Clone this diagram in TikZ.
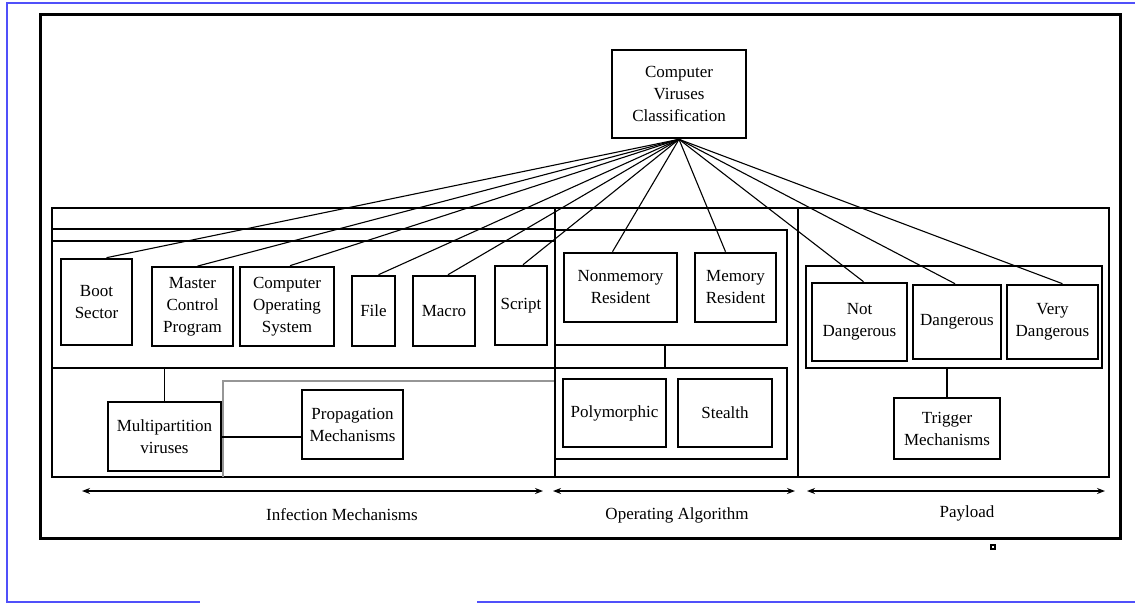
\documentclass[tikz,border=0pt]{standalone}
\usepackage{fontspec}
\setmainfont{Liberation Serif}
\usetikzlibrary{arrows.meta}

\definecolor{frameblue}{RGB}{80,80,250}
\definecolor{softgray}{RGB}{150,150,150}

\tikzset{
  box/.style={draw, line width=2.6pt, align=center, inner sep=0pt,
    font=\fontsize{17}{22}\selectfont},
  grp/.style={draw, line width=2.6pt, inner sep=0pt},
  link/.style={line width=1.1pt},
  spanarrow/.style={{Stealth[length=8pt,width=6pt]}-{Stealth[length=8pt,width=6pt]}, line width=2pt},
  lbl/.style={inner sep=0pt, font=\fontsize{17}{22}\selectfont},
}

\begin{document}
\begin{tikzpicture}[x=1pt, y=-1pt]
\useasboundingbox (0,0) rectangle (1135,603);

% page frame
\draw[frameblue, line width=1.8pt] (1135,3)--(7,3)--(7,602)--(200,602);
\draw[frameblue, line width=1.8pt] (477,602)--(1135,602);

% outer frames
\draw[line width=3pt] (40,14) rectangle (1120,538);
\draw[line width=2.8pt] (52,208) rectangle (1109,477);
\draw[line width=1.6pt] (52,229)--(555,229);
\draw[line width=2.8pt] (555,208)--(555,477);
\draw[line width=1.3pt] (798,208)--(798,477);
\draw[softgray, line width=1.3pt] (223,477)--(223,381)--(555,381);

% group boxes
\node[grp, minimum width=503pt, minimum height=127pt] (infbox) at (303.5,304.5) {};
\node[grp, minimum width=232pt, minimum height=115pt] (algotop) at (671,287.5) {};
\node[grp, minimum width=232pt, minimum height=91pt] (algobot) at (671,413.5) {};
\node[grp, minimum width=296pt, minimum height=102pt] (dangerbox) at (954,317) {};

% root
\node[box, minimum width=134pt, minimum height=88pt] (top) at (679,94) {Computer\\Viruses\\Classification};

% infection mechanisms
\node[box, minimum width=71pt, minimum height=86pt] (boot) at (96.5,302) {Boot\\Sector};
\node[box, line width=1.8pt, minimum width=81pt, minimum height=79pt] (mcp) at (192.5,306.5) {Master\\Control\\Program};
\node[box, minimum width=94pt, minimum height=79pt] (cos) at (287,306.5) {Computer\\Operating\\System};
\node[box, minimum width=43pt, minimum height=70pt] (file) at (373.5,311) {File};
\node[box, minimum width=62pt, minimum height=70pt] (macro) at (444,311) {Macro};
\node[box, minimum width=52pt, minimum height=79pt] (script) at (521,305.5) {Script};
\node[box, minimum width=113pt, minimum height=69pt] (multi) at (164.5,436.5) {Multipartition\\viruses};
\node[box, line width=2.2pt, minimum width=101pt, minimum height=69pt] (prop) at (352.5,424.5) {Propagation\\Mechanisms};

% operating algorithm
\node[box, minimum width=113pt, minimum height=69pt] (nonmem) at (620.5,287.5) {Nonmemory\\Resident};
\node[box, minimum width=81pt, minimum height=69pt] (mem) at (735.5,287.5) {Memory\\Resident};
\node[box, minimum width=103pt, minimum height=68pt] (poly) at (614.5,413) {Polymorphic};
\node[box, line width=2.1pt, minimum width=94pt, minimum height=68pt] (stealth) at (725,413) {Stealth};

% payload
\node[box, minimum width=95pt, minimum height=78pt] (notd) at (859.5,322) {Not\\Dangerous};
\node[box, minimum width=88pt, minimum height=74pt] (dang) at (957,322) {Dangerous};
\node[box, minimum width=91pt, minimum height=74pt] (vdang) at (1052.5,322) {Very\\Dangerous};
\node[box, minimum width=106pt, minimum height=61pt] (trigger) at (947,428.5) {Trigger\\Mechanisms};

% links from the root
\foreach \n/\dx in {boot/10,mcp/5,cos/3,file/5,macro/4,script/2,nonmem/-8,mem/-10,notd/4,dang/-2,vdang/10}
  \draw[link] (top.south) -- ([xshift=\dx pt]\n.north);

\draw[link] (multi.north) -- (multi.north |- infbox.south);
\draw[line width=2pt] (multi.east) -- (multi.east -| prop.west);
\draw[line width=2.6pt] ([xshift=-6pt]algotop.south) -- ([xshift=-6pt]algobot.north);
\draw[line width=2.6pt] (trigger.north) -- (trigger.north |- dangerbox.south);

% spans
\coordinate (ia) at (82,491);
\coordinate (ib) at (543,491);
\coordinate (oa) at (553,491);
\coordinate (ob) at (795,491);
\coordinate (pa) at (807,491);
\coordinate (pb) at (1105,491);
\draw[spanarrow] (ia) -- (ib);
\draw[spanarrow] (oa) -- (ob);
\draw[spanarrow] (pa) -- (pb);
\node[lbl] (inflbl) at (342,515) {Infection Mechanisms};
\node[lbl] (algolbl) at (677,515) {Operating Algorithm};
\node[lbl] (paylbl) at (967,513) {Payload};

% stray mark
\draw[line width=2.4pt] (991,545) rectangle (995,549);
\end{tikzpicture}
\end{document}
